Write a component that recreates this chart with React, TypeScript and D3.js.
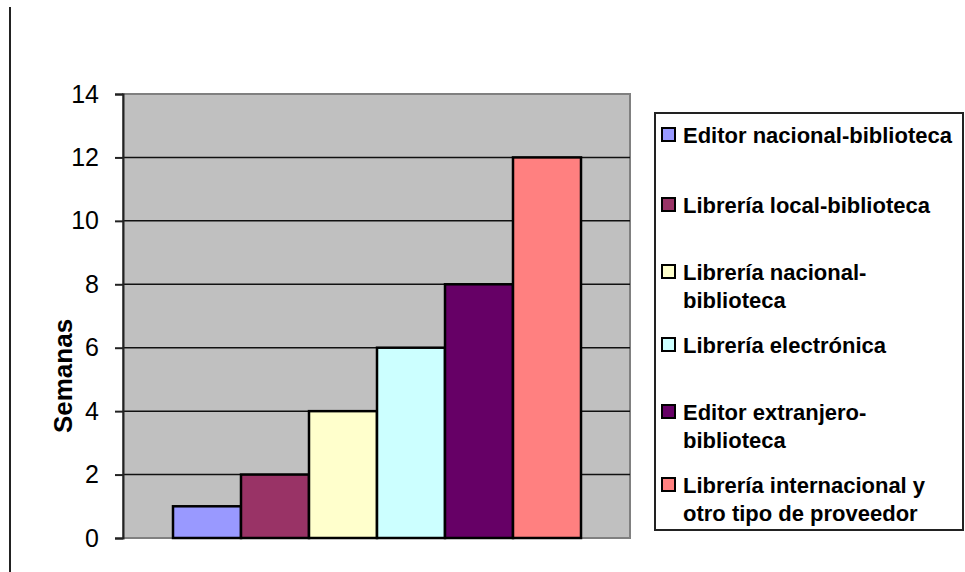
import React, { useRef, useEffect } from 'react';
import * as d3 from 'd3';

const categories = [
  'Editor nacional-biblioteca',
  'Librería local-biblioteca',
  'Librería nacional-biblioteca',
  'Librería electrónica',
  'Editor extranjero-biblioteca',
  'Librería internacional y otro tipo de proveedor',
];
const values = [1, 2, 4, 6, 8, 12];
const colors = ['#9999FF', '#993366', '#FFFFCC', '#CCFFFF', '#660066', '#FF8080'];
const legendLines = [
  ['Editor nacional-biblioteca'],
  ['Librería local-biblioteca'],
  ['Librería nacional-', 'biblioteca'],
  ['Librería electrónica'],
  ['Editor extranjero-', 'biblioteca'],
  ['Librería internacional y', 'otro tipo de proveedor'],
];
const yTicks = [0, 2, 4, 6, 8, 10, 12, 14];

export default function App() {
  const ref = useRef<SVGSVGElement>(null);

  useEffect(() => {
    const svg = d3.select(ref.current);
    svg.selectAll('*').remove();
    const font = 'Arial, "Liberation Sans", sans-serif';

    const plot = { left: 123, right: 630, top: 94, bottom: 538 };
    const y = d3.scaleLinear().domain([0, 14]).range([plot.bottom, plot.top]);
    const x = d3.scaleBand<string>().domain(categories)
      .range([173, 581]).paddingInner(0).paddingOuter(0);

    // left frame line
    svg.append('line').attr('x1', 10).attr('x2', 10).attr('y1', 7).attr('y2', 572)
      .attr('stroke', '#222').attr('stroke-width', 2);

    // plot area
    svg.append('rect').attr('x', plot.left).attr('y', plot.top)
      .attr('width', plot.right - plot.left).attr('height', plot.bottom - plot.top)
      .attr('fill', '#C0C0C0').attr('stroke', '#808080').attr('stroke-width', 2);

    // gridlines
    svg.append('g').selectAll('line').data(yTicks.filter(t => t > 0 && t < 14)).enter()
      .append('line')
      .attr('x1', plot.left).attr('x2', plot.right)
      .attr('y1', d => y(d)).attr('y2', d => y(d))
      .attr('stroke', '#111').attr('stroke-width', 1.5);

    // axis
    const axis = d3.axisLeft(y).tickValues(yTicks).tickSize(8).tickPadding(16)
      .tickFormat(d3.format('d'));
    const ag = svg.append('g').attr('transform', `translate(${plot.left},0)`).call(axis);
    ag.select('.domain').attr('stroke', '#222').attr('stroke-width', 2);
    ag.selectAll('.tick line').attr('stroke', '#222').attr('stroke-width', 2);
    ag.selectAll('.tick text').attr('font-family', font).attr('font-size', 25)
      .attr('fill', '#000');

    // bars
    svg.append('g').selectAll('rect').data(values).enter().append('rect')
      .attr('x', (d, i) => x(categories[i])!)
      .attr('y', d => y(d))
      .attr('width', x.bandwidth())
      .attr('height', d => y(0) - y(d))
      .attr('fill', (d, i) => colors[i])
      .attr('stroke', '#000').attr('stroke-width', 2.5);

    // y title
    svg.append('text').attr('transform', `translate(72,376) rotate(-90)`)
      .attr('text-anchor', 'middle').attr('font-family', font).attr('font-weight', 'bold')
      .attr('font-size', 26).text('Semanas');

    // legend
    svg.append('rect').attr('x', 655).attr('y', 113).attr('width', 308).attr('height', 417)
      .attr('fill', '#fff').attr('stroke', '#222').attr('stroke-width', 2);
    const itemY = [135, 205, 272, 345, 412, 485];
    const lg = svg.append('g');
    legendLines.forEach((lines, i) => {
      lg.append('rect').attr('x', 662).attr('y', itemY[i] - 7).attr('width', 13).attr('height', 13)
        .attr('fill', colors[i]).attr('stroke', '#000').attr('stroke-width', 2);
      lines.forEach((t, j) => {
        lg.append('text').attr('x', 683).attr('y', itemY[i] + j * 28)
          .attr('dy', '0.35em').attr('font-family', font).attr('font-weight', 'bold')
          .attr('font-size', 22).attr('fill', '#000').text(t);
      });
    });
  }, []);

  return (
    <svg ref={ref} width={965} height={572}
      style={{ position: 'absolute', left: 0, top: 0, background: '#fff' }} />
  );
}
